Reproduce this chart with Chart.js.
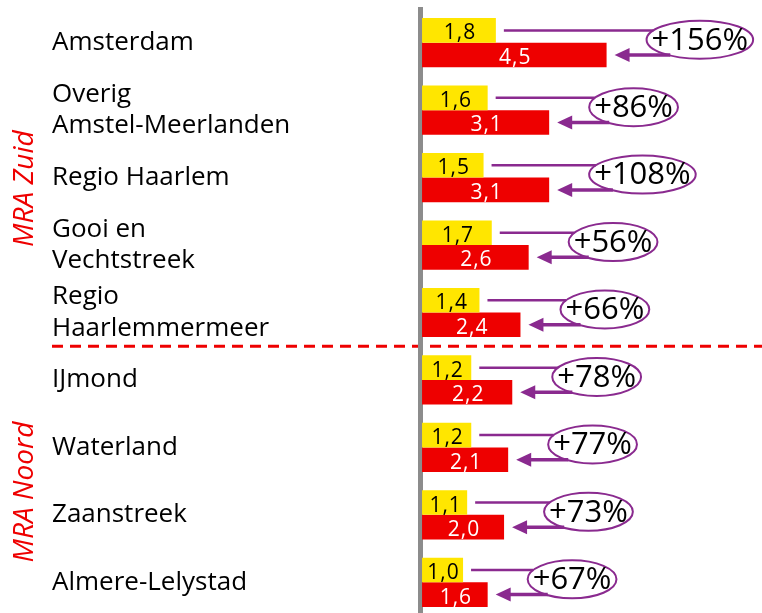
<!DOCTYPE html>
<html><head><meta charset="utf-8">
<script src="https://cdn.jsdelivr.net/npm/chart.js@4/dist/chart.umd.min.js"></script>
<style>
html,body{margin:0;padding:0;background:#fff;overflow:hidden;}
#wrap{width:762px;height:613px;overflow:hidden;position:relative;}
#c{position:absolute;left:0;top:0;}
</style></head><body>
<div id="wrap"><canvas id="c" width="762" height="616"></canvas></div>
<script>
const categories = [
  'Amsterdam',
  ['Overig', 'Amstel-Meerlanden'],
  'Regio Haarlem',
  ['Gooi en', 'Vechtstreek'],
  ['Regio', 'Haarlemmermeer'],
  'IJmond',
  'Waterland',
  'Zaanstreek',
  'Almere-Lelystad'
];
const valuesBefore = [1.8, 1.6, 1.5, 1.7, 1.4, 1.2, 1.2, 1.1, 1.0];
const valuesAfter  = [4.5, 3.1, 3.1, 2.6, 2.4, 2.2, 2.1, 2.0, 1.6];
const growthLabels = ['+156%', '+86%', '+108%', '+56%', '+66%', '+78%', '+77%', '+73%', '+67%'];
const groupNames = ['MRA Zuid', 'MRA Noord'];
const groupSizes = [5, 4];

const YELLOW = '#ffe600';
const RED = '#ee0000';
const PURPLE = '#8a2a8f';
const GREY = '#8c8c8c';
const FONT = '"Open Sans", "DejaVu Sans", sans-serif';

function fmt(v){ return v.toFixed(1).replace('.', ','); }

const annot = {
  id: 'annot',
  beforeDraw(chart){
    const ctx = chart.ctx, y = chart.scales.y;
    const yd = (y.getPixelForValue(groupSizes[0]-1) + y.getPixelForValue(groupSizes[0])) / 2;
    ctx.save();
    ctx.strokeStyle = RED; ctx.lineWidth = 3; ctx.setLineDash([11, 7]);
    ctx.beginPath(); ctx.moveTo(52, yd); ctx.lineTo(chart.width, yd); ctx.stroke();
    ctx.restore();
  },
  afterDatasetsDraw(chart){
    const ctx = chart.ctx, y = chart.scales.y;
    const m0 = chart.getDatasetMeta(0), m1 = chart.getDatasetMeta(1);
    ctx.save();
    // value labels
    ctx.textAlign = 'center'; ctx.textBaseline = 'middle';
    ctx.font = '21px ' + FONT;
    ctx.letterSpacing = '1px';
    for (let i = 0; i < categories.length; i++) {
      const b0 = m0.data[i], b1 = m1.data[i];
      ctx.fillStyle = '#000';
      ctx.fillText(fmt(valuesBefore[i]), (b0.x + b0.base) / 2 + 1, b0.y + 3);
      ctx.fillStyle = '#fff';
      ctx.fillText(fmt(valuesAfter[i]), (b1.x + b1.base) / 2 + 1, b1.y + 3);
    }
    ctx.letterSpacing = '0px';
    // growth annotations
    for (let i = 0; i < categories.length; i++) {
      const b0 = m0.data[i], b1 = m1.data[i];
      const cy = y.getPixelForValue(i) - 3;
      ctx.font = '31px ' + FONT;
      const tw = ctx.measureText(growthLabels[i]).width;
      const rx = tw / 2 + 5, ry = 19;
      const cx = b1.x + 40 + rx;
      const edge = (yy) => { const t = (yy - cy) / ry; return Math.abs(t) < 1 ? cx - rx * Math.sqrt(1 - t * t) : cx - rx * 0.4; };
      ctx.strokeStyle = PURPLE; ctx.fillStyle = PURPLE;
      ctx.lineWidth = 2.5;
      ctx.beginPath(); ctx.moveTo(b0.x + 8, b0.y); ctx.lineTo(edge(b0.y), b0.y); ctx.stroke();
      const tip = b1.x + 8;
      ctx.lineWidth = 3.5;
      ctx.beginPath(); ctx.moveTo(edge(b1.y) + 2, b1.y); ctx.lineTo(tip + 12, b1.y); ctx.stroke();
      ctx.beginPath(); ctx.moveTo(tip, b1.y); ctx.lineTo(tip + 15, b1.y - 7); ctx.lineTo(tip + 15, b1.y + 7); ctx.closePath(); ctx.fill();
      ctx.lineWidth = 2;
      ctx.beginPath(); ctx.ellipse(cx, cy, rx, ry, 0, 0, Math.PI * 2); ctx.stroke();
      ctx.fillStyle = '#000';
      ctx.fillText(growthLabels[i], cx, cy + 1);
    }
    // group labels
    ctx.fillStyle = RED;
    ctx.font = 'italic 28px ' + FONT;
    let start = 0;
    for (let g = 0; g < groupNames.length; g++) {
      const end = start + groupSizes[g] - 1;
      const gy = (y.getPixelForValue(start) + y.getPixelForValue(end)) / 2 + 11;
      ctx.save();
      ctx.translate(25, gy); ctx.rotate(-Math.PI / 2);
      ctx.fillText(groupNames[g], 0, 0);
      ctx.restore();
      start = end + 1;
    }
    ctx.restore();
  }
};

new Chart(document.getElementById('c'), {
  type: 'bar',
  data: {
    labels: categories,
    datasets: [
      { data: valuesBefore, backgroundColor: YELLOW, categoryPercentage: 0.73, barPercentage: 1 },
      { data: valuesAfter, backgroundColor: RED, categoryPercentage: 0.73, barPercentage: 1 }
    ]
  },
  options: {
    indexAxis: 'y',
    responsive: false,
    animation: false,
    layout: { padding: { left: 52, top: 9, right: 0, bottom: 0 } },
    plugins: { legend: { display: false }, tooltip: { enabled: false } },
    scales: {
      x: { display: false, min: -0.05, max: 8.29 },
      y: {
        position: 'left',
        grid: { display: false },
        border: { display: true, color: GREY, width: 5 },
        ticks: { crossAlign: 'far', autoSkip: false, color: '#000', font: { family: FONT, size: 26, lineHeight: 1.2 }, padding: 0 },
        afterFit(scale) { scale.width = 368; scale.paddingTop = 0; scale.paddingBottom = 0; }
      }
    }
  },
  plugins: [annot]
});
</script>
</body></html>
